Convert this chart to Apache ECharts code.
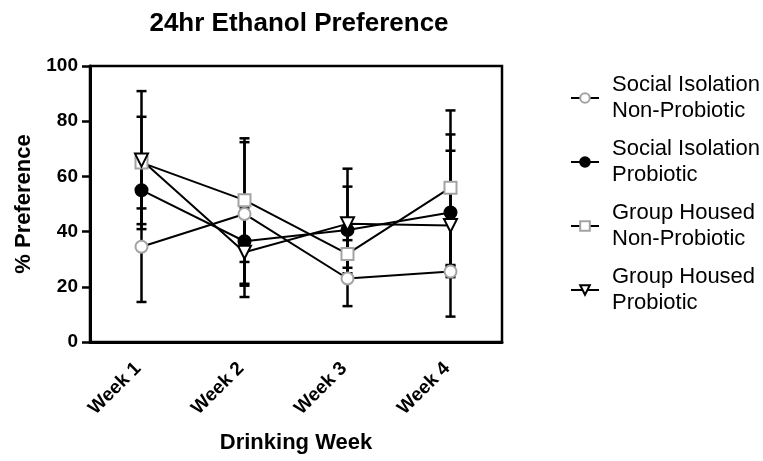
<!DOCTYPE html>
<html><head><meta charset="utf-8">
<script src="https://cdn.jsdelivr.net/npm/echarts@6/dist/echarts.min.js"></script>
<style>html,body{margin:0;padding:0;background:#fff}#c{width:763px;height:461px}</style>
</head><body><div id="c"></div>
<script>
var categories = ['Week 1', 'Week 2', 'Week 3', 'Week 4'];
var seriesNames = ['Social Isolation\nNon-Probiotic', 'Social Isolation\nProbiotic', 'Group Housed\nNon-Probiotic', 'Group Housed\nProbiotic'];
var siNonMean = [34.5, 46.4, 23.0, 25.5];
var siNonErr  = [20.0, 26.0, 10.0, 2.0];
var siProMean = [55.0, 36.5, 40.6, 46.9];
var siProErr  = [12.3, 15.4, 15.7, 22.4];
var ghNonMean = [65.0, 51.4, 31.9, 55.9];
var ghNonErr  = [16.6, 22.4, 5.0, 28.0];
var ghProMean = [65.9, 32.5, 42.8, 42.2];
var ghProErr  = [25.0, 16.2, 20.0, 33.0];
var yTicks = [0, 20, 40, 60, 80, 100];

var FONT = 'Liberation Sans, Arial, sans-serif';
var chart = echarts.init(document.getElementById('c'));

function errSeries(mean, err) {
  var data = mean.map(function (m, i) { return [i, m - err[i], m + err[i]]; });
  return {
    type: 'custom', z: 1, silent: true,
    renderItem: function (params, api) {
      var x = api.value(0);
      var lo = api.coord([x, api.value(1)]);
      var hi = api.coord([x, api.value(2)]);
      var hw = 5;
      var st = { stroke: '#000', lineWidth: 2.5 };
      return { type: 'group', children: [
        { type: 'line', shape: { x1: lo[0], y1: lo[1], x2: hi[0], y2: hi[1] }, style: st },
        { type: 'line', shape: { x1: lo[0] - hw, y1: lo[1], x2: lo[0] + hw, y2: lo[1] }, style: st },
        { type: 'line', shape: { x1: hi[0] - hw, y1: hi[1], x2: hi[0] + hw, y2: hi[1] }, style: st }
      ]};
    },
    data: data
  };
}

function lineSeries(name, data, symbol, size, stroke, fill, rot) {
  return {
    type: 'line', name: name, data: data, z: 5,
    symbol: symbol, symbolSize: size, symbolRotate: rot || 0,
    showAllSymbol: true,
    lineStyle: { color: '#000', width: 2 },
    itemStyle: { color: fill, borderColor: stroke, borderWidth: 2 }
  };
}

chart.setOption({
  animation: false,
  title: {
    text: '24hr Ethanol Preference', left: 294, top: 6, textAlign: 'center',
    textStyle: { fontFamily: FONT, fontSize: 26, fontWeight: 'bold', color: '#000' }
  },
  grid: { left: 90, right: 261, top: 66, bottom: 119, show: true, borderColor: '#000', borderWidth: 2.5, backgroundColor: 'transparent' },
  legend: {
    orient: 'vertical', left: 565, top: 67, itemGap: 12, itemWidth: 28, itemHeight: 12,
    textStyle: { fontFamily: FONT, fontSize: 22, color: '#000', lineHeight: 26, padding: [0, 0, 0, 8] },
    data: seriesNames
  },
  xAxis: {
    type: 'category', data: categories, boundaryGap: true,
    name: 'Drinking Week', nameLocation: 'middle', nameGap: 90,
    nameTextStyle: { fontFamily: FONT, fontSize: 22, fontWeight: 'bold', color: '#000' },
    axisLine: { lineStyle: { color: '#000', width: 3 } },
    axisTick: { alignWithLabel: true, length: 7, lineStyle: { color: '#000', width: 2.5 } },
    axisLabel: { rotate: 45, margin: 20, padding: [0, 5, 0, 0], fontFamily: FONT, fontSize: 19, fontWeight: 'bold', color: '#000' },
    splitLine: { show: false }
  },
  yAxis: {
    type: 'value', min: 0, max: 100, interval: 20,
    name: '% Preference', nameLocation: 'middle', nameGap: 55,
    nameTextStyle: { fontFamily: FONT, fontSize: 22, fontWeight: 'bold', color: '#000' },
    axisLine: { show: true, lineStyle: { color: '#000', width: 3 } },
    axisTick: { show: true, length: 8, lineStyle: { color: '#000', width: 2.5 } },
    axisLabel: { margin: 12, fontFamily: FONT, fontSize: 19, fontWeight: 'bold', color: '#000',
      formatter: function (v) { return yTicks.indexOf(v) >= 0 ? String(v) : ''; } },
    splitLine: { show: false }
  },
  series: [
    errSeries(siNonMean, siNonErr),
    errSeries(siProMean, siProErr),
    errSeries(ghNonMean, ghNonErr),
    errSeries(ghProMean, ghProErr),
    lineSeries(seriesNames[0], siNonMean, 'circle', 12, '#a3a3a3', '#fff'),
    lineSeries(seriesNames[1], siProMean, 'circle', 12, '#000', '#000'),
    lineSeries(seriesNames[2], ghNonMean, 'rect', 12, '#a3a3a3', '#fff'),
    lineSeries(seriesNames[3], ghProMean, 'triangle', 13, '#000', '#fff', 180)
  ]
});
</script></body></html>
